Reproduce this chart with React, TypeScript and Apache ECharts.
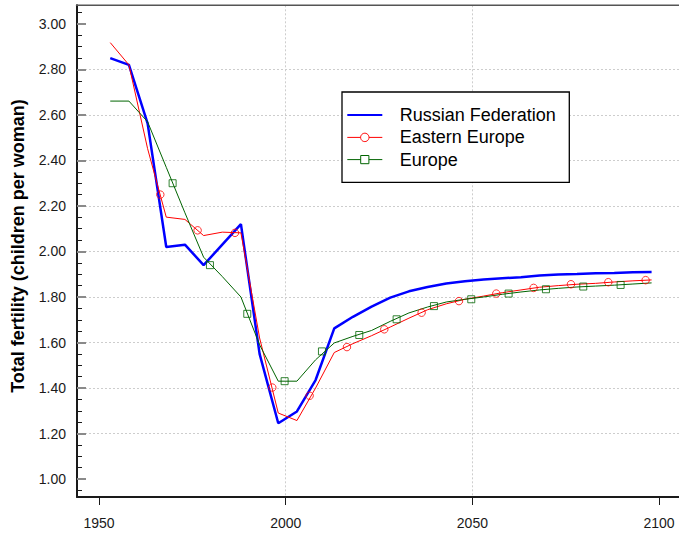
import React, { useEffect, useRef } from "react";
import * as echarts from "echarts";

// Period mid-years (x positions of the data points)
const years = [
  1953, 1958, 1963, 1968, 1973, 1978, 1983, 1988, 1993, 1998,
  2003, 2008, 2013, 2018, 2023, 2028, 2033, 2038, 2043, 2048,
  2053, 2058, 2063, 2068, 2073, 2078, 2083, 2088, 2093, 2098,
];

const russianFederation = [
  2.85, 2.82, 2.563, 2.02, 2.03, 1.94, 2.03, 2.12, 1.55, 1.245,
  1.297, 1.435, 1.662, 1.713, 1.758, 1.797, 1.825, 1.844, 1.859, 1.869,
  1.877, 1.882, 1.887, 1.894, 1.899, 1.901, 1.904, 1.906, 1.909, 1.91,
];

const easternEurope = [
  2.918, 2.82, 2.452, 2.151, 2.141, 2.07, 2.085, 2.082, 1.62, 1.29,
  1.257, 1.4, 1.556, 1.595, 1.63, 1.668, 1.707, 1.744, 1.77, 1.79,
  1.804, 1.819, 1.831, 1.843, 1.85, 1.856, 1.86, 1.866, 1.871, 1.875,
];

const europe = [
  2.661, 2.661, 2.57, 2.37, 2.17, 1.975, 1.89, 1.8, 1.59, 1.43,
  1.43, 1.524, 1.598, 1.627, 1.653, 1.693, 1.73, 1.756, 1.778, 1.79,
  1.8, 1.812, 1.822, 1.831, 1.838, 1.844, 1.848, 1.852, 1.857, 1.862,
];

// Marker positions (markers drawn every 10 years along the lines)
const easternEuropeMarkerYears = [
  1966.4, 1976.4, 1986.4, 1996.4, 2006.4, 2016.4, 2026.4,
  2036.4, 2046.4, 2056.4, 2066.4, 2076.4, 2086.4, 2096.4,
];
const easternEuropeMarkerValues = [
  2.25, 2.093, 2.082, 1.402, 1.366, 1.58, 1.658,
  1.731, 1.782, 1.815, 1.84, 1.856, 1.865, 1.874,
];
const europeMarkerYears = [
  1969.7, 1979.7, 1989.7, 1999.7, 2009.7, 2019.7, 2029.7,
  2039.7, 2049.7, 2059.7, 2069.7, 2079.7, 2089.7,
];
const europeMarkerValues = [
  2.3, 1.94, 1.726, 1.43, 1.561, 1.633, 1.702,
  1.76, 1.79, 1.815, 1.834, 1.846, 1.853,
];

const xTickValues = [1950, 2000, 2050, 2100];
const yTickValues = [1.0, 1.2, 1.4, 1.6, 1.8, 2.0, 2.2, 2.4, 2.6, 2.8, 3.0];
const legendNames = ["Russian Federation", "Eastern Europe", "Europe"];
const yAxisTitle = "Total fertility (children per woman)";

const COLORS = { russia: "#0000ff", east: "#ff0000", europe: "#006400" };
const FONT = '"Liberation Sans", Arial, Helvetica, sans-serif';
const AXIS_COLOR = "#1a1a1a";
const GRID_LINE = { color: "#cdcdcd", type: [2, 2] as number[], width: 1 };

const CHART_W = 679;
const CHART_H = 535;

export default function App() {
  const ref = useRef<HTMLDivElement>(null);

  useEffect(() => {
    if (!ref.current) return;
    const chart = echarts.init(ref.current, null, { renderer: "svg" });

    const pairs = (xs: number[], ys: number[]) => xs.map((x, i) => [x, ys[i]]);

    const legendX = 342;
    const legendY = 92;
    const rowY = [115, 137.4, 159.6];
    const lineX0 = 347.3;
    const lineX1 = 382.3;
    const midX = (lineX0 + lineX1) / 2;
    const textX = 399.7;
    const legendColors = [COLORS.russia, COLORS.east, COLORS.europe];
    const legendWidths = [2, 1, 1];

    const legendElements: any[] = [
      {
        type: "rect",
        shape: { x: legendX, y: legendY, width: 227.3, height: 90.3 },
        style: { fill: "#ffffff", stroke: "#000000", lineWidth: 1.3 },
        z: 100,
      },
    ];
    legendNames.forEach((name, i) => {
      legendElements.push({
        type: "line",
        shape: { x1: lineX0, y1: rowY[i], x2: lineX1, y2: rowY[i] },
        style: { stroke: legendColors[i], lineWidth: legendWidths[i] },
        z: 101,
      });
      legendElements.push({
        type: "text",
        x: textX,
        y: rowY[i],
        style: {
          text: name,
          font: `18px ${FONT}`,
          fill: "#000000",
          align: "left",
          verticalAlign: "middle",
        },
        z: 101,
      });
    });
    legendElements.push({
      type: "circle",
      shape: { cx: midX, cy: rowY[1], r: 4.2 },
      style: { fill: "#ffffff", stroke: COLORS.east, lineWidth: 1 },
      z: 102,
    });
    legendElements.push({
      type: "rect",
      shape: { x: midX - 4.1, y: rowY[2] - 4.1, width: 8.2, height: 8.2 },
      style: { fill: "#ffffff", stroke: COLORS.europe, lineWidth: 1 },
      z: 102,
    });

    const xMin = 1944.09;
    const xMax = 2105.34;
    const yMin = 0.921;
    const yMax = 3.082;

    chart.setOption({
      animation: false,
      backgroundColor: "#ffffff",
      grid: { left: 77, top: 5.3, right: 0, bottom: 38, containLabel: false },
      xAxis: {
        type: "value",
        min: xMin,
        max: xMax,
        minInterval: 50,
        maxInterval: 50,
        splitNumber: 3,
        axisLine: { show: true, onZero: false, lineStyle: { color: AXIS_COLOR, width: 2 } },
        axisTick: {
          show: true,
          inside: false,
          length: 8,
          customValues: xTickValues,
          lineStyle: { color: AXIS_COLOR, width: 1 },
        },
        axisLabel: {
          show: true,
          customValues: xTickValues,
          margin: 19,
          fontSize: 14,
          fontFamily: FONT,
          color: AXIS_COLOR,
          formatter: (v: number) => String(Math.round(v)),
        },
        splitLine: { show: true, showMinLine: false, showMaxLine: false, lineStyle: GRID_LINE },
      },
      yAxis: {
        type: "value",
        min: yMin,
        max: yMax,
        minInterval: 0.2,
        maxInterval: 0.2,
        splitNumber: 10,
        axisLine: { show: true, onZero: false, lineStyle: { color: AXIS_COLOR, width: 2 } },
        axisTick: {
          show: true,
          inside: true,
          length: 9,
          customValues: yTickValues,
          lineStyle: { color: "#8a8a8a", width: 2 },
        },
        minorTick: {
          show: true,
          splitNumber: 4,
          length: 5,
          lineStyle: { color: AXIS_COLOR, width: 1 },
        },
        axisLabel: {
          show: true,
          customValues: yTickValues,
          margin: 11,
          fontSize: 14,
          fontFamily: FONT,
          color: AXIS_COLOR,
          formatter: (v: number) => v.toFixed(2),
        },
        splitLine: { show: true, showMinLine: false, showMaxLine: false, lineStyle: GRID_LINE },
      },
      series: [
        {
          name: legendNames[0],
          type: "line",
          data: pairs(years, russianFederation),
          symbol: "none",
          lineStyle: { color: COLORS.russia, width: 2.5 },
          itemStyle: { color: COLORS.russia },
          silent: true,
          z: 3,
        },
        {
          name: legendNames[1],
          type: "line",
          data: pairs(years, easternEurope),
          symbol: "none",
          lineStyle: { color: COLORS.east, width: 1 },
          itemStyle: { color: COLORS.east },
          silent: true,
          z: 4,
        },
        {
          name: legendNames[2],
          type: "line",
          data: pairs(years, europe),
          symbol: "none",
          lineStyle: { color: COLORS.europe, width: 1 },
          itemStyle: { color: COLORS.europe },
          silent: true,
          z: 5,
        },
        {
          name: legendNames[1] + " markers",
          type: "scatter",
          data: pairs(easternEuropeMarkerYears, easternEuropeMarkerValues),
          symbol: "circle",
          symbolSize: 7.5,
          itemStyle: { color: "rgba(255,255,255,0)", borderColor: COLORS.east, borderWidth: 1 },
          silent: true,
          z: 6,
        },
        {
          name: legendNames[2] + " markers",
          type: "scatter",
          data: pairs(europeMarkerYears, europeMarkerValues),
          symbol: "rect",
          symbolSize: 7,
          itemStyle: { color: "rgba(255,255,255,0)", borderColor: COLORS.europe, borderWidth: 1 },
          silent: true,
          z: 7,
        },
      ],
      graphic: [
        {
          type: "line",
          shape: { x1: 76, y1: 5.3, x2: CHART_W, y2: 5.3 },
          style: { stroke: "#555555", lineWidth: 1.5 },
          z: 50,
        },
        {
          type: "text",
          x: 17.5,
          y: 246,
          rotation: Math.PI / 2,
          style: {
            text: yAxisTitle,
            font: `bold 18px ${FONT}`,
            fill: "#000000",
            align: "center",
            verticalAlign: "middle",
          },
        },
        ...legendElements,
      ],
    });

    return () => chart.dispose();
  }, []);

  return (
    <div
      ref={ref}
      style={{ position: "absolute", left: 0, top: 0, width: CHART_W, height: CHART_H }}
    />
  );
}
